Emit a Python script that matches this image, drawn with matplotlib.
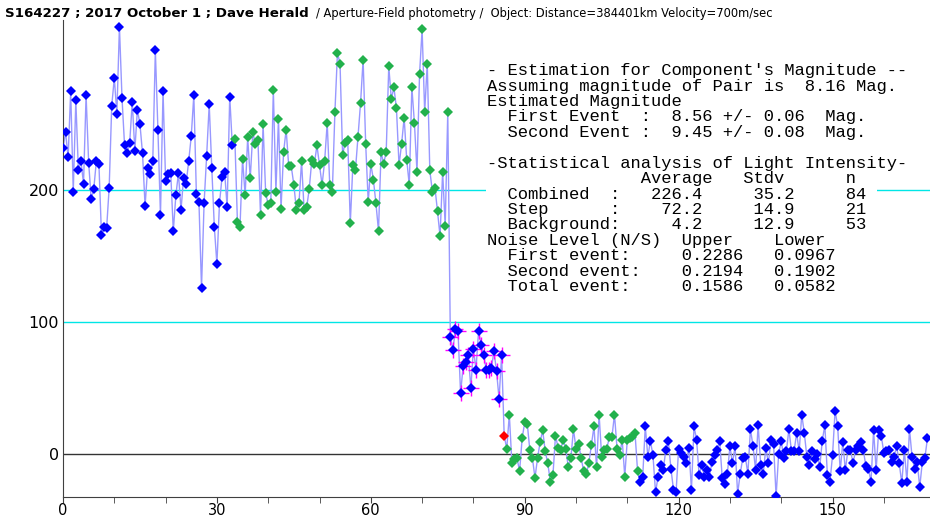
import numpy as np
import matplotlib
matplotlib.use('Agg')
from matplotlib import pyplot as plt
from matplotlib import font_manager
from matplotlib.patches import Rectangle
from matplotlib.ticker import MultipleLocator


def has_font(name):
    try:
        font_manager.findfont(font_manager.FontProperties(family=name), fallback_to_default=False)
        return True
    except Exception:
        return False


narrow = 'Liberation Sans Narrow' if has_font('Liberation Sans Narrow') else 'DejaVu Sans'
mono = 'Liberation Mono' if has_font('Liberation Mono') else 'DejaVu Sans Mono'

# light intensity per frame (0.5 s per frame)
pre = [232, 244, 225, 275, 199, 268, 215, 222, 205, 272,
       221, 193, 201, 222, 220, 166, 172, 171, 202, 264,
       285, 258, 324, 270, 234, 228, 236, 267, 230, 261,
       250, 228, 188, 217, 212, 222, 306, 246, 181, 275,
       207, 212, 213, 169, 196, 213, 185, 209, 205, 222,
       241, 272, 197, 191, 126, 190, 226, 265, 217, 172,
       144, 190, 210, 214, 187, 271, 234]
combined = [239, 176, 172, 224, 196, 240, 209, 244, 235, 238,
            181, 250, 198, 189, 190, 276, 199, 254, 186, 229,
            246, 218, 218, 204, 185, 190, 222, 185, 187, 201,
            223, 220, 234, 219, 204, 222, 251, 204, 199, 259,
            304, 296, 227, 236, 238, 175, 219, 215, 240, 266,
            299, 235, 191, 220, 208, 190, 169, 229, 220, 229,
            294, 269, 278, 262, 219, 235, 255, 223, 204, 278,
            251, 214, 288, 322, 259, 296, 215, 199, 202, 184,
            165, 214, 173, 259]
step = [89, 79, 95, 93, 46, 67, 70, 75, 50, 80,
        64, 93, 83, 75, 64, 64, 65, 78, 63, 42, 75]
edge = [14]
background = [4, 30, -7, -4, -3, -13, 12, 24, 23, 3,
              -3, -18, -3, 9, 18, 2, -7, -21, -16, 14,
              5, 3, 11, 4, -10, -3, 19, 4, 8, -3,
              -13, -15, -7, 7, 21, -10, 30, -2, 3, 4,
              13, 13, 30, 4, -1, 11, -17, 11, 12, 13,
              16, -13]
post = [-21, -17, 21, -2, 10, -1, -29, -17, -8, -12,
        3, 10, -11, -27, -29, 4, 1, -2, -7, 5,
        -27, 21, 11, -16, -8, -17, -12, -17, -6, -1,
        3, 10, -18, -23, -15, 6, -7, 6, -30, -15,
        -3, -2, -15, 19, 6, -12, 22, -8, -15, 5,
        -7, 11, 8, -32, 0, 10, -3, 2, 19, 2,
        2, 16, 2, 30, 16, -2, -8, 2, -4, 0,
        -10, 10, 22, -16, -21, -1, 33, 21, -13, 9,
        -12, 3, 3, -7, 3, 6, 9, 3, -9, -11,
        -21, 18, -12, 18, 14, 1, 2, 3, -6, -2,
        6, -7, -22, 3, -21, 19, -2, -11, -6, -25,
        -6, -3, 12]

title_bold = "S164227 ; 2017 October 1 ; Dave Herald"
title_rest = "/ Aperture-Field photometry /  Object: Distance=384401km Velocity=700m/sec"

info_lines = [
    "- Estimation for Component's Magnitude --",
    "Assuming magnitude of Pair is  8.16 Mag.",
    "Estimated Magnitude",
    "  First Event  :  8.56 +/- 0.06  Mag.",
    "  Second Event :  9.45 +/- 0.08  Mag.",
    "",
    "-Statistical analysis of Light Intensity-",
    "               Average   Stdv      n",
    "  Combined  :   226.4     35.2     84",
    "  Step      :    72.2     14.9     21",
    "  Background:     4.2     12.9     53",
    "Noise Level (N/S)  Upper    Lower",
    "  First event:     0.2286   0.0967",
    "  Second event:    0.2194   0.1902",
    "  Total event:     0.1586   0.0582",
]

segments = [pre, combined, step, edge, background, post]
values = np.concatenate(segments)
frames = np.arange(len(values))
t = frames * 0.5

bounds = np.cumsum([0] + [len(s) for s in segments])
seg_t = [t[bounds[k]:bounds[k + 1]] for k in range(len(segments))]

W, H = 930, 517
fig = plt.figure(figsize=(W / 100, H / 100), dpi=100)
ax = fig.add_axes([63 / W, 20 / H, (W - 63) / W, (497 - 20) / H])

ax.axhline(200, color='#00e6e6', lw=1, zorder=1)
ax.axhline(100, color='#00e6e6', lw=1, zorder=1)
ax.axhline(0, color='#333333', lw=1, zorder=1)

ax.plot(t, values, color='#9898ff', lw=1, zorder=2)

ax.plot(seg_t[2], step, '+', color='#ff00ff', ms=12, mew=1, zorder=3)
for seg_x, seg_y, col in zip(seg_t, segments,
                             ['#0000ff', '#22b14c', '#0000ff', '#ff0000', '#22b14c', '#0000ff']):
    ax.plot(seg_x, seg_y, 'D', color=col, ms=4.7, mew=0, zorder=4)

ax.set_xlim(0, 169)
ax.set_ylim(-32.5, 329)
ax.set_yticks([0, 100, 200])
ax.xaxis.set_major_locator(MultipleLocator(30))
ax.xaxis.set_minor_locator(MultipleLocator(10))
ax.tick_params(axis='y', length=0, pad=3, labelsize=11.5, colors='black')
ax.tick_params(axis='x', which='both', direction='out', length=4, color='#404040',
               labelsize=10.5, pad=0.5)
for lab in ax.get_xticklabels() + ax.get_yticklabels():
    lab.set_family(narrow)
ax.spines['top'].set_visible(False)
ax.spines['right'].set_visible(False)
ax.spines['left'].set_color('#404040')
ax.spines['bottom'].set_color('#404040')

# white panel behind the statistics text
fig.add_artist(Rectangle((486 / W, 1 - 294 / H), (877 - 486) / W, (294 - 62) / H,
                         transform=fig.transFigure, facecolor='white', edgecolor='none', zorder=5))
for k, line in enumerate(info_lines):
    if not line:
        continue
    py = 70.7 + 15.43 * k
    fig.text(487 / W, 1 - py / H, line, family=mono, fontsize=12.3, va='center', ha='left',
             zorder=10)

t1 = fig.text(5 / W, 1 - 13 / H, title_bold, family=narrow, fontweight='bold',
              fontsize=12, va='center', ha='left')
fig.canvas.draw()
bb = t1.get_window_extent()
t1.set_fontsize(12 * 302 / bb.width)
fig.canvas.draw()
bb = t1.get_window_extent()
t2 = fig.text((bb.x1 + 7) / W, 1 - 14 / H, title_rest, family=narrow,
              fontsize=10.5, va='center', ha='left')
fig.canvas.draw()
bb2 = t2.get_window_extent()
t2.set_fontsize(10.5 * (775 - bb.x1 - 7) / bb2.width)

fig.savefig('out.png', dpi=100)
